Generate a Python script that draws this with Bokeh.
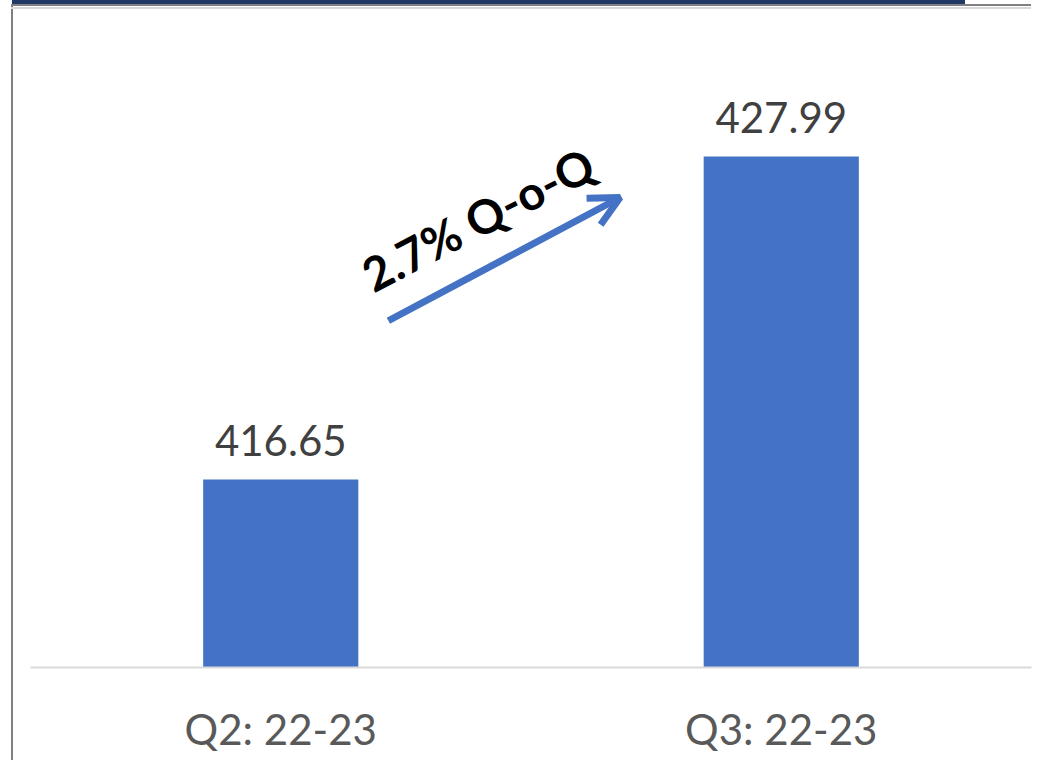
from bokeh.plotting import figure
from bokeh.models import FactorRange, Range1d, Arrow, OpenHead, Label, ColumnDataSource
from bokeh.core.properties import value
from bokeh.embed import file_html
from bokeh.resources import INLINE

quarters = ["Q2: 22-23", "Q3: 22-23"]
values = [416.65, 427.99]
value_labels = ["416.65", "427.99"]
growth_text = "2.7% Q-o-Q"

BASE = 410.05
TOP = 432.77
BLUE = "#4472C4"

src = ColumnDataSource(dict(q=quarters, v=values, t=value_labels))

p = figure(x_range=FactorRange(*quarters), y_range=Range1d(BASE, TOP),
           width=1034, height=760, output_backend="svg", toolbar_location=None,
           min_border_left=30, min_border_right=3, min_border_top=20, min_border_bottom=93)
p.background_fill_color = "white"
p.border_fill_color = "white"
p.border_fill_alpha = 0
p.outline_line_color = None
p.grid.visible = False
p.yaxis.visible = False

# screenshot frame of the original (window edges)
p.styles = {
    "background-color": "white",
    "background-image": ", ".join(["linear-gradient(#203864, #203864)",
                                   "linear-gradient(#808080, #808080)",
                                   "linear-gradient(#d9d9d9, #d9d9d9)",
                                   "linear-gradient(#808080, #808080)"]),
    "background-position": "12px 0px, 11px 4px, 11px 7px, 11px 4px",
    "background-size": "953px 4px, 1020px 2px, 1020px 2px, 2px 756px",
    "background-repeat": "no-repeat, no-repeat, no-repeat, no-repeat",
}

p.vbar(x="q", top="v", bottom=BASE, width=0.31, source=src, fill_color=BLUE, line_color=None)
p.text(x="q", y="v", text="t", source=src, text_align="center", text_baseline="bottom",
       y_offset=-24, text_font=value("Lato"), text_font_size="42px", text_color="#404040")

ax = p.xaxis[0]
ax.axis_line_color = "#d9d9d9"
ax.axis_line_width = 2
ax.major_tick_line_color = None
ax.minor_tick_line_color = None
ax.major_label_standoff = 30
ax.major_label_text_font = "Lato"
ax.major_label_text_font_size = "42px"
ax.major_label_text_color = "#595959"

# growth arrow between the bars
x0 = 0.715
x1 = 1.178
y0 = BASE + (values[0] - BASE) * 1.845
y1 = BASE + (values[1] - BASE) * 0.92
p.add_layout(Arrow(x_start=x0, y_start=y0, x_end=x1, y_end=y1, line_color=BLUE, line_width=7,
                   end=OpenHead(size=30, line_width=7, line_color=BLUE)))
p.add_layout(Label(x=0.894, y=425.8, text=growth_text, angle=0.48, text_align="center",
                   text_baseline="middle", text_font="Lato", text_font_style="bold",
                   text_font_size="47px", text_color="black"))

open("out.html", "w").write(file_html(p, INLINE))
